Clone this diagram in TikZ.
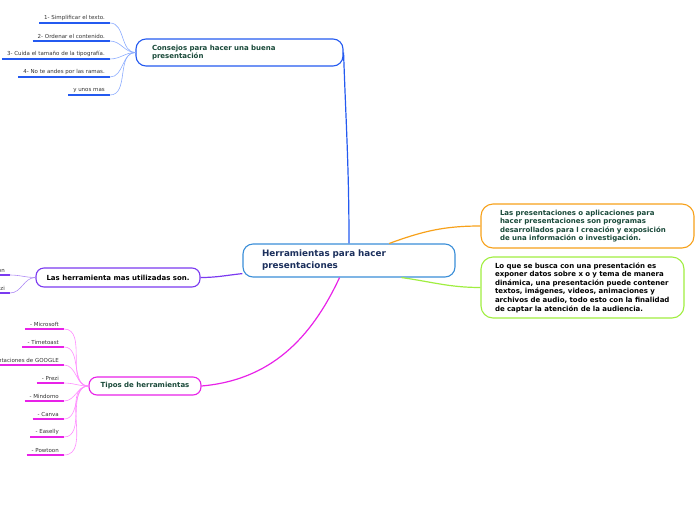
\documentclass[tikz,border=0pt]{standalone}
\usepackage{fontspec}
\setmainfont{DejaVu Sans}
\usetikzlibrary{positioning,calc}
\definecolor{rootborder}{RGB}{58,142,216}
\definecolor{roottext}{RGB}{27,47,92}
\definecolor{darkgreen}{RGB}{26,74,58}
\definecolor{consblue}{RGB}{36,90,240}
\definecolor{constwig}{RGB}{140,172,255}
\definecolor{herrpurple}{RGB}{123,58,240}
\definecolor{herrtwig}{RGB}{176,140,245}
\definecolor{tipomagenta}{RGB}{232,34,232}
\definecolor{tipotwig}{RGB}{255,140,255}
\definecolor{infoorange}{RGB}{247,161,26}
\definecolor{goallime}{RGB}{160,238,64}
\definecolor{leafgray}{RGB}{51,51,51}

\begin{document}
\begin{tikzpicture}[x=1pt,y=1pt,
  topicbox/.style={rectangle,rounded corners=10pt,line width=1.1pt,fill=white,
                   font=\fontsize{7}{8.6}\selectfont\bfseries,inner ysep=0pt},
  leafnode/.style={anchor=south east,inner xsep=5pt,inner ysep=2.2pt,
                   text=leafgray,font=\fontsize{5.5}{6.5}\selectfont},
  underline/.style={line width=1.3pt},
  twig/.style={line width=0.6pt},
  mainline/.style={line width=1.2pt}
]
\useasboundingbox (0,0) rectangle (696,-520);
\clip (0,0) rectangle (696,-520);

% central topic
\node[topicbox,draw=rootborder,text=roottext,font=\fontsize{8.8}{12}\selectfont\bfseries,
      minimum width=212pt,minimum height=33pt,text width=174pt,align=left,inner xsep=19pt]
  (root) at (349,-260.5) {Herramientas para hacer\\presentaciones};

% main topics
\node[topicbox,draw=consblue,text=darkgreen,minimum width=207pt,minimum height=27pt,
      text width=175pt,align=left,inner xsep=16pt]
  (cons) at (239.5,-52.5) {Consejos para hacer una buena\\presentación};
\node[topicbox,draw=herrpurple,text=black,rounded corners=8pt,minimum width=164pt,
      minimum height=19pt,align=center]
  (herr) at (118,-277.5) {Las herramienta mas utilizadas son.};
\node[topicbox,draw=tipomagenta,text=darkgreen,rounded corners=8pt,minimum width=112pt,
      minimum height=18pt,align=center]
  (tipos) at (145,-386) {Tipos de herramientas};
\node[topicbox,draw=infoorange,text=darkgreen,rounded corners=12pt,minimum width=213pt,
      minimum height=44pt,text width=175pt,align=left,inner xsep=19pt]
  (info) at (587.5,-226) {Las presentaciones o aplicaciones para\\hacer presentaciones son programas\\desarrollados para l creación y exposición\\de una información o investigación.};
\node[topicbox,draw=goallime,text=black,rounded corners=12pt,minimum width=203pt,
      minimum height=61pt,text width=175pt,align=left,inner xsep=14pt]
  (goal) at (582.5,-287.5) {Lo que se busca con una presentación es\\exponer datos sobre x o y tema de manera\\dinámica, una presentación puede contener\\textos, imágenes, videos, animaciones y\\archivos de audio, todo esto con la finalidad\\de captar la atención de la audiencia.};

% connectors from the central topic
\draw[mainline,consblue] (cons.east) to[out=-88,in=90] (root.north);
\draw[mainline,infoorange] (root.23) to[out=20,in=180] (info.west);
\draw[mainline,goallime] (root.-18) to[out=-8,in=180] (goal.west);
\draw[mainline,tipomagenta] (root.-119) to[out=-115,in=5] (tipos.east);
\draw[mainline,herrpurple] (root.-173) to[out=186,in=0] (herr.east);

% leaves
\foreach \tip [count=\i] in {1- Simplificar el texto.,2- Ordenar el contenido.,
    3- Cuida el tamaño de la tipografía.,4- No te andes por las ramas.,y unos mas} {
  \node[leafnode] (cons\i) at (110,{-23-18*(\i-1)}) {\tip};
  \draw[underline,consblue] (cons\i.south west) -- (cons\i.south east);
  \draw[twig,constwig] (cons\i.south east) to[out=0,in=180] (cons.west);
}
\foreach \tip [count=\i] in {- Powtoon,- Prezi} {
  \node[leafnode] (herr\i) at (10,{-275-18*(\i-1)}) {\tip};
  \draw[underline,herrpurple] (herr\i.south west) -- (herr\i.south east);
  \draw[twig,herrtwig] (herr\i.south east) to[out=0,in=180] (herr.west);
}
\foreach \tip [count=\i] in {- Microsoft,- Timetoast,- Presentaciones de GOOGLE,- Prezi,
    - Mindomo,- Canva,- Easelly,- Powtoon} {
  \node[leafnode] (tipo\i) at (64,{-329-18*(\i-1)}) {\tip};
  \draw[underline,tipomagenta] (tipo\i.south west) -- (tipo\i.south east);
  \draw[twig,tipotwig] (tipo\i.south east) to[out=0,in=180] (tipos.west);
}

\end{tikzpicture}
\end{document}
